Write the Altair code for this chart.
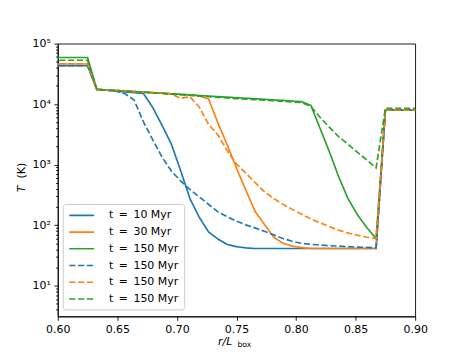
import altair as alt
import pandas as pd

# grid cells r/L_box = i/128
cell_index = list(range(76, 117))
r = [i / 128 for i in cell_index]

keys = ["a", "b", "c", "d", "e", "f"]
SP = "\u2002"
labels = ["t" + SP + "=" + SP + "10 Myr", "t" + SP + "=" + SP + "30 Myr",
          "t" + SP + "=" + SP + "150 Myr", "t" + SP + "=" + SP + "150 Myr",
          "t" + SP + "=" + SP + "150 Myr", "t" + SP + "=" + SP + "150 Myr"]
colors = ["#1f77b4", "#ff7f0e", "#2ca02c", "#1f77b4", "#ff7f0e", "#2ca02c"]
dashes = [[1, 0], [1, 0], [1, 0], [6.2, 2.7], [6.2, 2.7], [6.2, 2.7]]

top = [17500, 17150, 16800, 16450, 16100, 15800, 15450, 15150, 14800, 14500, 14200,
       13900, 13600, 13300, 13050, 12750, 12500, 12250, 12000, 11700, 11500, 11200, 11000]

blue_solid = [43000] * 5 + [17500, 17000, 16400, 15900, 15500, 15000, 8800, 4460, 2190, 795,
                            274, 135, 77, 59, 48, 44, 42] + [41] * 14 + [8000] * 5
orange_solid = [46000] * 5 + top[:11] + [13600, 12200, 4900, 2130, 873, 381, 168, 103, 63,
                                         50, 45, 42.5] + [41] * 8 + [8000] * 5
green_solid = [59000] * 5 + top + [9500, 3900, 1600, 620, 271, 148, 91, 60] + [8000] * 5
blue_dashed = [43000] * 5 + [17500, 17000, 16400, 14960, 11700, 5100, 2580, 1330, 782, 537,
                             388, 294, 220, 166, 138, 116, 101, 90, 79, 69, 60, 54, 50, 48,
                             46.7, 45.7, 44.9, 44, 43.3, 42.8, 42.2] + [8000] * 5
orange_dashed = [46500] * 5 + top[:9] + [12470, 13250, 8980, 4600, 3110, 1700, 1020, 724, 506,
                                         356, 276, 220, 182, 151, 127, 109, 94, 82, 74, 68,
                                         63, 60] + [8000] * 5
green_dashed = [53000] * 5 + [17500, 17100, 16750, 16400, 16050, 15700, 15350, 15000, 14650,
                              14300, 13950, 13600, 13250, 12950, 12650, 12350, 12100, 11850,
                              11600, 11350, 11100, 10850, 10650] + \
               [9150, 6000, 4120, 2880, 2170, 1600, 1190, 880] + [8500] * 5

series = [blue_solid, orange_solid, green_solid, blue_dashed, orange_dashed, green_dashed]

x_ticks = [0.60, 0.65, 0.70, 0.75, 0.80, 0.85, 0.90]
y_major = [10, 100, 1000, 10000, 100000]
y_major_labels = ["10¹", "10²", "10³", "10⁴", "10⁵"]
y_minor = [m * 10 ** k for k in range(0, 5) for m in range(2, 10) if m * 10 ** k > 3.1]

rows = []
for k, vals in zip(keys, series):
    for x, v in zip(r, vals):
        rows.append({"r": x, "T": v, "s": k})
df = pd.DataFrame(rows)

label_expr = "[" + ",".join("'%s'" % l for l in labels) + "][indexof([" + \
    ",".join("'%s'" % k for k in keys) + "], datum.value)]"
y_label_expr = " : ".join("datum.value == %d ? '%s'" % (v, l) for v, l in zip(y_major, y_major_labels)) + " : ''"
major_test = "indexof([" + ",".join(str(v) for v in y_major) + "], datum.value) >= 0"

FONT = "DejaVu Sans"
FS = 11


def make_legend():
    return alt.Legend(title=None, orient="none", legendX=5, legendY=161,
                      symbolType="M-2.5,0H2.5", symbolSize=100,
                      symbolStrokeWidth=1.67, symbolOffset=7.5, labelOffset=21.5,
                      labelFontSize=FS, labelFont=FONT, labelColor="black",
                      labelExpr=label_expr, rowPadding=5.8, padding=5.5,
                      cornerRadius=3, strokeColor="#cccccc",
                      fillColor="rgba(255,255,255,0.8)", labelLimit=200)


lines = alt.Chart(df).mark_line(clip=True, strokeWidth=1.67).encode(
    x=alt.X("r:Q",
            scale=alt.Scale(domain=[0.6, 0.9], nice=False, zero=False),
            axis=alt.Axis(values=x_ticks, format=".2f", title=None, grid=False,
                          tickSize=3.9, tickWidth=0.9, tickColor="black",
                          domainColor="black", domainWidth=0.9,
                          labelFontSize=FS, labelColor="black", labelFont=FONT,
                          labelPadding=3.5, labelFlush=False)),
    y=alt.Y("T:Q",
            scale=alt.Scale(type="log", domain=[3.1, 100000], nice=False),
            axis=alt.Axis(values=y_minor + y_major, labelExpr=y_label_expr, title=None,
                          grid=False, tickWidth=0.9, tickColor="black",
                          tickSize={"condition": {"test": major_test, "value": 3.9}, "value": 2.2},
                          domainColor="black", domainWidth=0.9, labelOverlap=False,
                          labelFontSize=FS, labelColor="black", labelFont=FONT,
                          labelPadding=3.5)),
    color=alt.Color("s:N", scale=alt.Scale(domain=keys, range=colors), legend=make_legend()),
    strokeDash=alt.StrokeDash("s:N", scale=alt.Scale(domain=keys, range=dashes),
                              legend=make_legend()),
)

title_df = pd.DataFrame({"t": ["r/L"]})
sub_df = pd.DataFrame({"t": ["box"]})
yt_df = pd.DataFrame({"t": ["T"]})
yk_df = pd.DataFrame({"t": ["(K)"]})

x_title = alt.Chart(title_df).mark_text(align="left", baseline="middle", fontSize=FS,
                                        font=FONT, fontStyle="italic", color="black").encode(
    text="t:N", x=alt.value(161), y=alt.value(300))
x_sub = alt.Chart(sub_df).mark_text(align="left", baseline="middle", fontSize=7.7,
                                    font=FONT, color="black").encode(
    text="t:N", x=alt.value(180.5), y=alt.value(303))
y_title = alt.Chart(yt_df).mark_text(angle=270, align="center", baseline="middle", fontSize=FS,
                                     font=FONT, fontStyle="italic", color="black").encode(
    text="t:N", x=alt.value(-36), y=alt.value(146))
y_k = alt.Chart(yk_df).mark_text(angle=270, align="center", baseline="middle", fontSize=FS,
                                 font=FONT, color="black").encode(
    text="t:N", x=alt.value(-36), y=alt.value(127.5))

chart = alt.layer(lines, x_title, x_sub, y_title, y_k).properties(
    width=359, height=274,
    autosize=alt.AutoSizeParams(type="none"),
    padding={"left": 50, "top": 35, "right": 40, "bottom": 35},
    background="white",
).configure_view(stroke="black", strokeWidth=0.9)

chart.save("out.html", embed_options={"renderer": "svg", "actions": False})
